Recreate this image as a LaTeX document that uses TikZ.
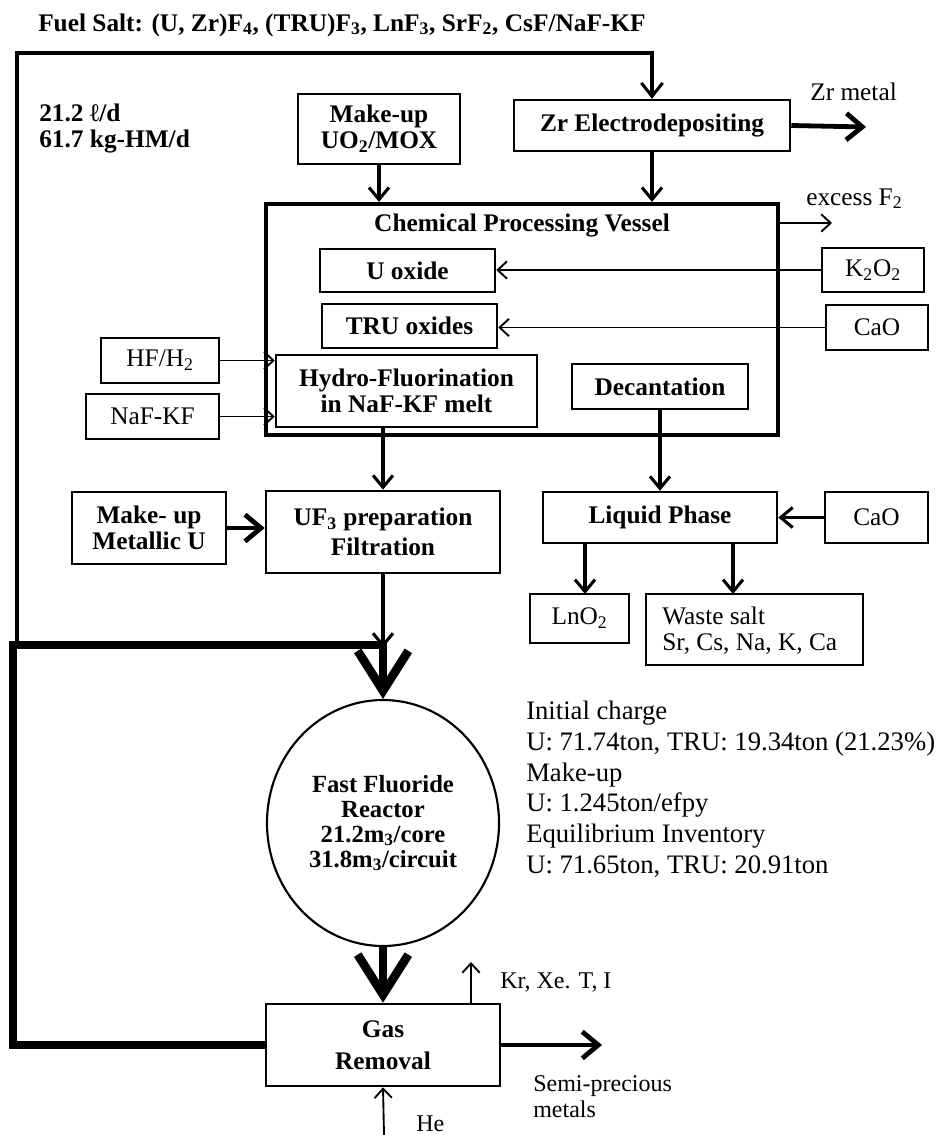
\documentclass[tikz,border=0pt]{standalone}
\usepackage{fontspec}
\setmainfont{Liberation Serif}
\usetikzlibrary{arrows.meta,fit,shapes.geometric}
\newcommand\bft{\fontsize{19}{19.5}\selectfont\bfseries}
\newcommand\nft{\fontsize{19}{19.5}\selectfont}
\newcommand\sub[1]{\textsubscript{#1}}
\begin{document}
\begin{tikzpicture}[x=0.75pt,y=-0.75pt,
  box/.style={draw,line width=1.9pt,inner sep=0pt},
  nbox/.style={draw,line width=1.6pt,inner sep=0pt},
  bt/.style={font=\bft,align=center,inner sep=0pt},
  nt/.style={font=\nft,align=center,inner sep=0pt},
  vessel/.style={draw,line width=3.2pt,inner sep=0pt},
  thinar/.style={line width=1.4pt,-{Straight Barb[length=7pt,width=13pt,line width=1.4pt]}},
  midar/.style={line width=2.3pt,-{Straight Barb[length=9pt,width=15pt,line width=2.3pt]}},
  boldar/.style={line width=3.6pt,-{Straight Barb[length=12pt,width=20pt,line width=3.6pt]}},
  bigar/.style={line width=6.5pt,line join=miter,-{Straight Barb[length=30pt,width=38pt,line width=6.5pt]}},
  loopthin/.style={line width=2.3pt},
  lbl/.style={inner sep=0pt,font=\nft,align=left},
  blbl/.style={inner sep=0pt,font=\bft,align=left}
]
\useasboundingbox (0,0) rectangle (940,1135);

% title and side labels
\node[blbl,anchor=west] (title) at (38,25) {Fuel Salt: (U, Zr)F\sub{4}, (TRU)F\sub{3}, LnF\sub{3}, SrF\sub{2}, CsF/NaF-KF};
\node[blbl,anchor=base west] (rate) at (39,147) {21.2 ℓ/d\\61.7 kg-HM/d};

% top boxes
\node[box,fit={(298,94)(460,164)},label={[bt]center:Make-up\\UO\sub{2}/MOX}] (mk) {};
\node[box,fit={(514,100)(790,151)},label={[bt]center:Zr Electrodepositing}] (zr) {};

% vessel
\node[vessel,fit={(266,204)(778,435)}] (vessel) {};
\node[bt] (vtitle) at (522,226) {Chemical Processing Vessel};
\node[box,fit={(320,249)(495,292)},label={[bt]center:U oxide}] (uox) {};
\node[box,fit={(322,304)(497,348)},label={[bt]center:TRU oxides}] (tru) {};
\node[box,fit={(276,355)(537,427)},label={[bt]center:Hydro-Fluorination\\in NaF-KF melt}] (hyd) {};
\node[box,fit={(572,364)(748,409)},label={[bt]center:Decantation}] (dec) {};

% reagents
\node[nbox,fit={(822,248)(924,292)},label={[nt]center:K\sub{2}O\sub{2}}] (k2o2) {};
\node[nbox,fit={(826,305)(928,350)},label={[nt]center:CaO}] (cao1) {};
\node[nbox,fit={(101,338)(219,383)},label={[nt]center:HF/H\sub{2}}] (hf) {};
\node[nbox,fit={(86,394)(219,439)},label={[nt]center:NaF-KF}] (naf) {};

% middle row
\node[box,fit={(72,492)(226,564)},label={[bt]center:Make- up\\Metallic U}] (mu) {};
\node[box,fit={(266,491)(500,573)},label={[bt,font=\fontsize{19}{22.5}\selectfont\bfseries]center:UF\sub{3} preparation\\Filtration}] (uf3) {};
\node[box,fit={(543,492)(777,543)},label={[bt]center:Liquid Phase}] (liq) {};
\node[nbox,fit={(825,492)(928,543)},label={[nt]center:CaO}] (cao2) {};
\node[nbox,fit={(530,594)(629,643)},label={[nt]center:LnO\sub{2}}] (lno) {};
\node[nbox,fit={(646,594)(863,665)}] (waste) {};
\node[lbl,anchor=base west] (wtxt) at (662,650) {Waste salt\\Sr, Cs, Na, K, Ca};

% reactor
\node[ellipse,draw,line width=1.6pt,minimum width=174pt,minimum height=184.5pt,inner sep=0pt,align=center,
      font=\fontsize{18.5}{18.8}\selectfont\bfseries] (rx) at (383,823)
  {Fast Fluoride\\Reactor\\21.2m\sub{3}/core\\31.8m\sub{3}/circuit};
\node[lbl,anchor=base west,font=\fontsize{20}{23}\selectfont] (info) at (526,873)
  {Initial charge\\U: 71.74ton, TRU: 19.34ton (21.23\%)\\Make-up\\U: 1.245ton/efpy\\Equilibrium Inventory\\U: 71.65ton, TRU: 20.91ton};

% gas removal
\node[box,fit={(266,1004)(500,1086)},label={[bt,font=\fontsize{19}{24}\selectfont\bfseries]center:Gas\\Removal}] (gas) {};

% coordinates for free ends
\coordinate (jn) at (17,645);
\coordinate (lb) at (13,645);
\coordinate (zrm) at (866,127);
\coordinate (xf) at (832,223);
\coordinate (kr) at (471,962);
\coordinate (semi) at (602,1045);
\coordinate (he) at (384,1135);
\coordinate (w1) at (733,594);
\coordinate (l1) at (585,594);

% labels
\node[lbl,anchor=base west] (zrl) at (810,100) {Zr metal};
\node[lbl,anchor=base west] (xfl) at (806,205) {excess F\sub{2}};
\node[lbl,anchor=base west,font=\fontsize{18}{21}\selectfont] (krl) at (500,988) {Kr, Xe. T, I};
\node[lbl,anchor=base west,font=\fontsize{18}{19}\selectfont] (sml) at (533,1117) {Semi-precious\\metals};
\node[lbl,anchor=base west,font=\fontsize{18}{21}\selectfont] (hel) at (416,1131) {He};

% loops
\draw[loopthin,-{Straight Barb[length=10pt,width=16pt,line width=2.3pt]}] (jn) -- (17,53) -| (zr.north);
\draw[bigar] (gas.west) -| (lb) -| (rx.north);

% flows
\draw[midar] (mk.south) -- (mk.south |- vessel.north);
\draw[midar] (zr.south) -- (zr.south |- vessel.north);
\draw[boldar] (zr.east) -- (zrm);
\draw[thinar] (vessel.east |- xf) -- (xf);
\draw[thinar] (k2o2.west) -- (k2o2.west -| uox.east);
\draw[thinar] (cao1.west) -- (cao1.west -| tru.east);
\draw[thinar] (hf.east) -- (hf.east -| hyd.west);
\draw[thinar] (naf.east) -- (naf.east -| hyd.west);
\draw[midar] (uf3.north |- hyd.south) -- (uf3.north);
\draw[midar] (dec.south) -- (dec.south |- liq.north);
\draw[boldar] (mu.east) -- (mu.east -| uf3.west);
\draw[midar] (cao2.west) -- (liq.east);
\draw[midar] (liq.south -| l1) -- (l1);
\draw[midar] (liq.south -| w1) -- (w1);
\draw[midar] (uf3.south) -- ([yshift=-2pt]uf3.south |- lb);
\draw[bigar] (rx.south) -- (gas.north);
\draw[thinar] (gas.north -| kr) -- (kr);
\draw[boldar] (gas.east) -- (semi);
\draw[thinar] (he) -- (gas.south);
\end{tikzpicture}
\end{document}
